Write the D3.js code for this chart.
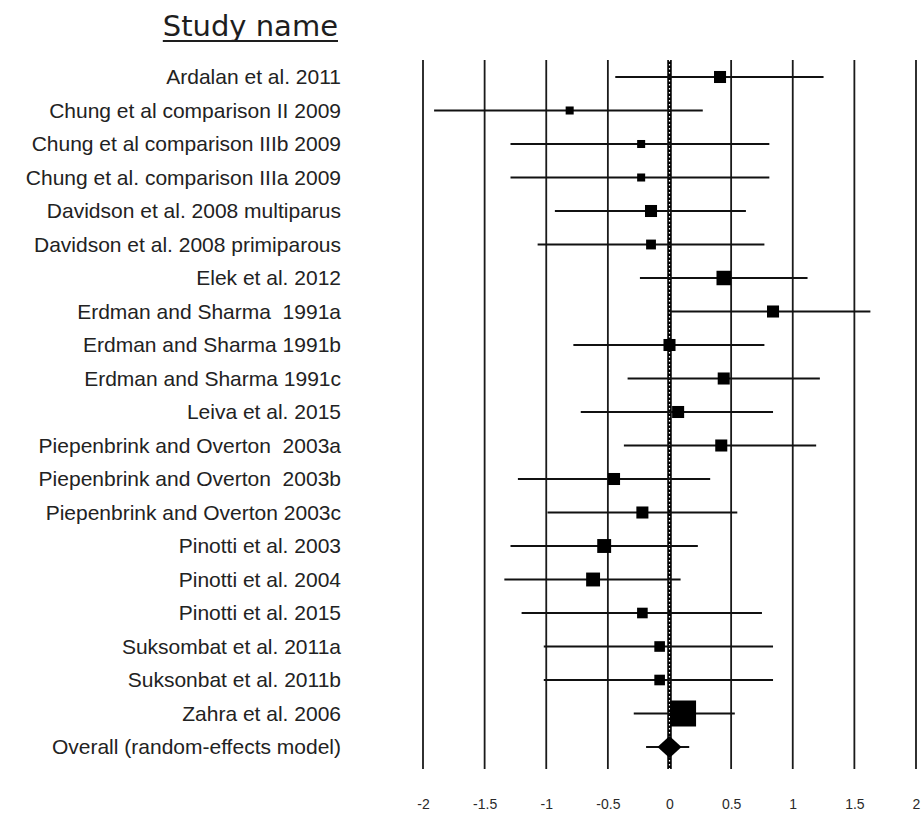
<!DOCTYPE html>
<html>
<head>
<meta charset="utf-8">
<script src="https://cdn.jsdelivr.net/npm/d3@7"></script>
<style>
  body { margin: 0; background: #fff; }
</style>
</head>
<body>
<div id="container"></div>
<script>
/* CONSTANTS AND GLOBALS */
const width = 921,
  height = 818,
  margin = { top: 60, bottom: 49, left: 423, right: 5 };

// row centres run from 77 to 747
const rowTop = 77, rowBottom = 747;
const labelX = 341;

/* DATA */
const studies = [
  "Ardalan et al. 2011",
  "Chung et al comparison II 2009",
  "Chung et al comparison IIIb 2009",
  "Chung et al. comparison IIIa 2009",
  "Davidson et al. 2008 multiparus",
  "Davidson et al. 2008 primiparous",
  "Elek et al. 2012",
  "Erdman and Sharma  1991a",
  "Erdman and Sharma 1991b",
  "Erdman and Sharma 1991c",
  "Leiva et al. 2015",
  "Piepenbrink and Overton  2003a",
  "Piepenbrink and Overton  2003b",
  "Piepenbrink and Overton 2003c",
  "Pinotti et al. 2003",
  "Pinotti et al. 2004",
  "Pinotti et al. 2015",
  "Suksombat et al. 2011a",
  "Suksonbat et al. 2011b",
  "Zahra et al. 2006",
  "Overall (random-effects model)"
];
const effect = [0.41, -0.81, -0.23, -0.23, -0.15, -0.15, 0.44, 0.84, 0.00, 0.44, 0.07,
  0.42, -0.45, -0.22, -0.53, -0.62, -0.22, -0.08, -0.08, 0.11, 0.00];
const lower = [-0.44, -1.91, -1.29, -1.29, -0.93, -1.07, -0.24, 0.00, -0.78, -0.34, -0.72,
  -0.37, -1.23, -0.99, -1.29, -1.34, -1.20, -1.02, -1.02, -0.29, -0.19];
const upper = [1.25, 0.27, 0.81, 0.81, 0.62, 0.77, 1.12, 1.63, 0.77, 1.22, 0.84,
  1.19, 0.33, 0.55, 0.23, 0.09, 0.75, 0.84, 0.84, 0.53, 0.16];
// relative weights (square area), last row is the pooled diamond
const weight = [9, 4, 4, 4, 9, 6, 13, 9, 9, 9, 9, 9, 9, 9, 12, 12, 7, 7, 7, 42, null];
const xTicks = [-2, -1.5, -1, -0.5, 0, 0.5, 1, 1.5, 2];

const rows = studies.map((name, i) => ({
  name: name,
  effect: effect[i],
  lower: lower[i],
  upper: upper[i],
  weight: weight[i],
  overall: i === studies.length - 1
}));

let svg, xScale, yScale, sizeScale;

init();

function init() {
  // + SCALES
  xScale = d3.scaleLinear()
    .domain([-2, 2])
    .range([margin.left, width - margin.right]);

  yScale = d3.scalePoint()
    .domain(studies)
    .range([rowTop, rowBottom]);

  sizeScale = d3.scaleSqrt()
    .domain([0, 42])
    .range([0, 26]);

  svg = d3.select("#container")
    .append("svg")
    .attr("width", width)
    .attr("height", height)
    .style("background-color", "#fff");

  // + TITLE
  const title = svg.append("text")
    .attr("x", labelX - 3)
    .attr("y", 36)
    .attr("text-anchor", "end")
    .attr("font-family", "DejaVu Sans, Verdana, sans-serif")
    .attr("font-size", 29)
    .attr("fill", "#1e1e1e")
    .text("Study name");

  const tb = title.node().getBBox();
  svg.append("line")
    .attr("x1", tb.x)
    .attr("x2", tb.x + tb.width)
    .attr("y1", 41)
    .attr("y2", 41)
    .attr("stroke", "#1e1e1e")
    .attr("stroke-width", 1.8);

  // + STUDY LABELS
  svg.append("g")
    .selectAll("text")
    .data(rows)
    .join("text")
    .attr("x", labelX)
    .attr("y", d => yScale(d.name))
    .attr("dy", "0.35em")
    .attr("text-anchor", "end")
    .attr("font-family", "Liberation Sans, Arial, sans-serif")
    .attr("font-size", 21)
    .attr("fill", "#222")
    .attr("xml:space", "preserve")
    .text(d => d.name);

  // + GRID LINES
  svg.append("g")
    .selectAll("line")
    .data(xTicks.filter(t => t !== 0))
    .join("line")
    .attr("x1", d => xScale(d))
    .attr("x2", d => xScale(d))
    .attr("y1", margin.top)
    .attr("y2", height - margin.bottom)
    .attr("stroke", "#1a1a1a")
    .attr("stroke-width", 1.8);

  // zero line: thick black with white dots
  svg.append("line")
    .attr("x1", xScale(0))
    .attr("x2", xScale(0))
    .attr("y1", margin.top)
    .attr("y2", height - margin.bottom)
    .attr("stroke", "#000")
    .attr("stroke-width", 4.5);
  svg.append("line")
    .attr("x1", xScale(0))
    .attr("x2", xScale(0))
    .attr("y1", margin.top)
    .attr("y2", height - margin.bottom)
    .attr("stroke", "#fff")
    .attr("stroke-width", 1.2)
    .attr("stroke-dasharray", "1.5,2.5");

  // + X AXIS (labels only)
  const xAxis = d3.axisBottom(xScale)
    .tickValues(xTicks)
    .tickSize(0)
    .tickPadding(0)
    .tickFormat(d => String(d));

  const xAxisGroup = svg.append("g")
    .attr("transform", `translate(0, ${799})`)
    .call(xAxis);
  xAxisGroup.select(".domain").remove();
  xAxisGroup.selectAll("text")
    .attr("font-family", "Liberation Sans, Arial, sans-serif")
    .attr("font-size", 14)
    .attr("fill", "#2a2a2a");

  draw();
}

function draw() {
  const g = svg.append("g");

  // whiskers
  g.selectAll("line.ci")
    .data(rows)
    .join("line")
    .attr("class", "ci")
    .attr("x1", d => xScale(d.lower))
    .attr("x2", d => xScale(d.upper))
    .attr("y1", d => yScale(d.name))
    .attr("y2", d => yScale(d.name))
    .attr("stroke", "#111")
    .attr("stroke-width", 2);

  // study squares
  g.selectAll("rect")
    .data(rows.filter(d => !d.overall))
    .join("rect")
    .attr("x", d => xScale(d.effect) - sizeScale(d.weight) / 2)
    .attr("y", d => yScale(d.name) - sizeScale(d.weight) / 2)
    .attr("width", d => sizeScale(d.weight))
    .attr("height", d => sizeScale(d.weight))
    .attr("fill", "#000");

  // pooled diamond
  const dw = 12, dh = 11;
  g.selectAll("path.diamond")
    .data(rows.filter(d => d.overall))
    .join("path")
    .attr("class", "diamond")
    .attr("d", d => {
      const cx = xScale(d.effect), cy = yScale(d.name);
      return `M${cx - dw},${cy} L${cx},${cy - dh} L${cx + dw},${cy} L${cx},${cy + dh} Z`;
    })
    .attr("fill", "#000");
}
</script>
</body>
</html>
